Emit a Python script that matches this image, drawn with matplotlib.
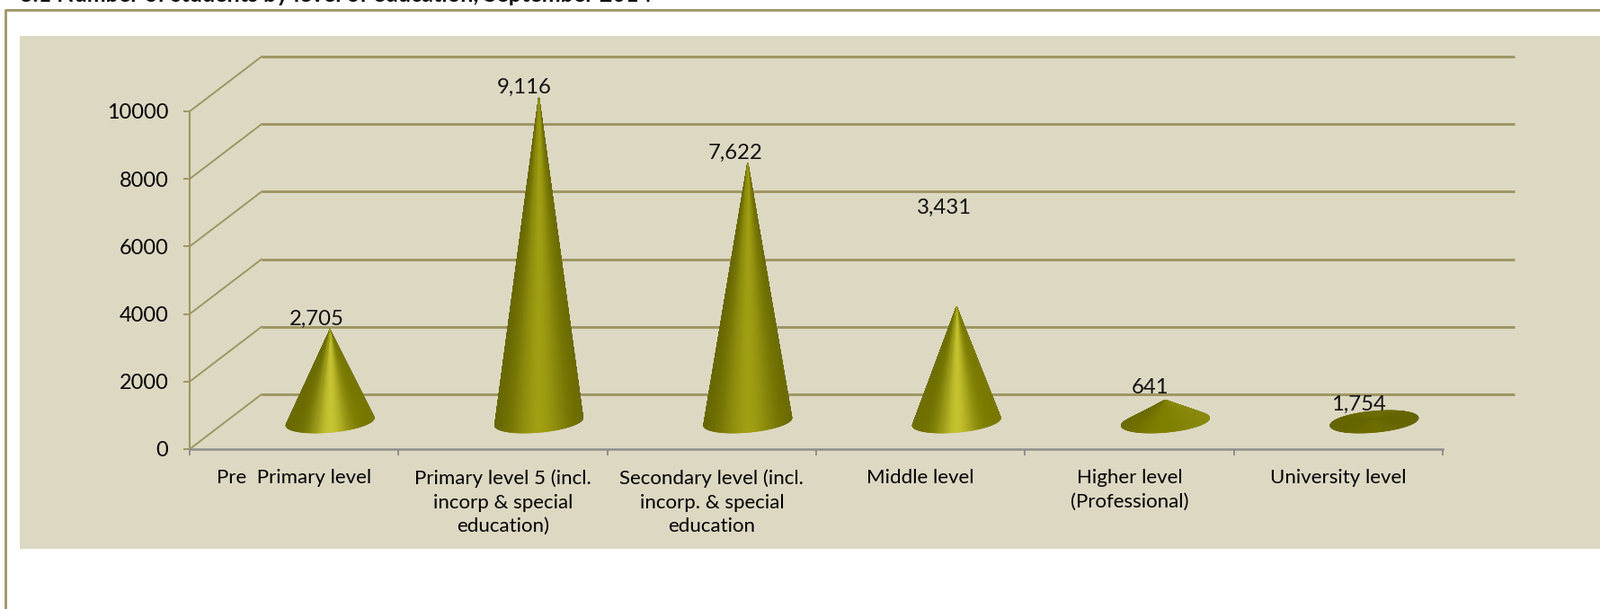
import numpy as np
import matplotlib

matplotlib.use("Agg")
import matplotlib.pyplot as plt
from matplotlib.collections import PolyCollection
from matplotlib.colors import to_rgb
from matplotlib.lines import Line2D
from matplotlib.patches import Rectangle

title = "3.1 Number of students by level of education, September 2014"
categories = [
    "Pre  Primary level",
    "Primary level 5 (incl.\nincorp & special\neducation)",
    "Secondary level (incl.\nincorp. & special\neducation",
    "Middle level",
    "Higher level\n(Professional)",
    "University level",
]
# printed labels, and the cone heights as they are drawn (they differ in the source)
students = [2705, 9116, 7622, 3431, 641, 1754]
cone_heights = [2720, 9600, 7660, 3400, 640, 60]
yticks = [0, 2000, 4000, 6000, 8000, 10000]

W, H = 1780, 678
LEFT, RIGHT = 211, 1605
BASE, TOP = 500, 124
GRID = "#9d9663"
GREY = "#8e8e8e"
PANEL = "#ddd8c2"

plt.rcParams["font.family"] = ["Lato", "DejaVu Sans"]
plt.rcParams["text.color"] = "#111111"
FS = 16.6


def hline(x0, x1, y0, y1, lw):
    return Line2D(
        [x0 / W, x1 / W], [1 - y0 / H, 1 - y1 / H], transform=fig.transFigure,
        color=GRID, lw=lw, solid_capstyle="butt",
    )


fig = plt.figure(figsize=(W / 100, H / 100), dpi=100, facecolor="white")

# panel and outer frame
fig.add_artist(Rectangle((22 / W, 1 - 611 / H), (W - 22) / W, 571 / H,
                         transform=fig.transFigure, fc=PANEL, ec="none", zorder=-2))
fig.add_artist(hline(6, W, 11, 11, 2.0))
fig.add_artist(hline(6, 6, 10, H, 2.0))
fig.text(22 / W, 1 - 1.5 / H, title, fontsize=18.1, fontweight="bold", va="baseline", ha="left")

ax = fig.add_axes([LEFT / W, 1 - BASE / H, (RIGHT - LEFT) / W, (BASE - TOP) / H])
ax.patch.set_visible(False)
ax.set_xlim(0, len(categories))
ax.set_ylim(0, 10000)

px_x = (RIGHT - LEFT) / len(categories)
px_y = (BASE - TOP) / 10000
depth_x = 80 / px_x
depth_y = 61 / px_y

# back wall lines and side wall diagonals
for v in yticks:
    ax.plot([depth_x, len(categories) + depth_x], [v + depth_y, v + depth_y],
            color=GRID, lw=2.1, clip_on=False, zorder=1, solid_capstyle="butt")
    ax.plot([0, depth_x], [v, v + depth_y], color=GRID, lw=1.4, clip_on=False, zorder=1)

# (left edge, middle, right edge) of each cone's shading, and width of the bright band
shades = [
    ("#6a6a00", "#c6c432", "#767600", 0.42),
    ("#626200", "#a09e12", "#666600", 0.62),
    ("#626200", "#a09e12", "#666600", 0.62),
    ("#6e6e00", "#c4c22e", "#787800", 0.42),
    ("#666600", "#808000", "#8a8a10", 0.8),
    ("#626200", "#6c6c00", "#626200", 0.8),
]

# rim of the base, a circle on the sloped floor
t = np.linspace(0, 2 * np.pi, 361)
rim_a = 46.2 / px_x
rim_b = 16.4 / px_x
rim_c = 12.5 / px_y

for i, height in enumerate(cone_heights):
    cx = i + 0.5 + depth_x / 2
    cy = depth_y / 2
    rx = cx + rim_a * np.cos(t) + rim_b * np.sin(t)
    ry = cy + rim_c * np.sin(t)
    half = np.hypot(rim_a, rim_b)
    left, mid, right, band = shades[i]
    left, mid, right = [np.array(to_rgb(c)) for c in (left, mid, right)]

    polys = []
    cols = []
    for k in range(len(t) - 1):
        polys.append([(cx, cy + height), (rx[k], ry[k]), (rx[k + 1], ry[k + 1])])
        u = ((rx[k] + rx[k + 1]) / 2 - cx) / half
        edge = left if u < 0 else right
        cols.append(edge + (mid - edge) * np.exp(-((u / band) ** 2)))
    # back of the cone first, then the front from the edges inwards
    order = np.argsort(-np.sin((t[:-1] + t[1:]) / 2))
    polys = [polys[k] for k in order]
    cols = [cols[k] for k in order]
    ax.add_collection(PolyCollection(polys, facecolors=cols, edgecolors=cols, linewidths=0.6,
                                     clip_on=False, zorder=3))

# data labels were moved by hand in the source, offsets in pixels from (centre, value)
label_offsets = [(25, 43), (24, 60), (26, 43), (26, 140), (23, 44), (23, -16)]
for i, v in enumerate(students):
    ax.annotate(f"{v:,}", (i + 0.5, v), xytext=label_offsets[i], textcoords="offset pixels",
                ha="center", va="center", fontsize=17.2, zorder=5, annotation_clip=False)

ax.set_yticks(yticks)
ax.set_yticklabels([str(v) for v in yticks], fontsize=FS + 0.3)
ax.tick_params(axis="y", length=5, width=1.4, color=GRID, pad=12)
ax.set_xticks(range(len(categories) + 1))
ax.set_xticklabels([])
ax.tick_params(axis="x", which="major", length=5, width=1.4, color=GREY)
ax.set_xticks(np.arange(len(categories)) + 0.5, minor=True)
ax.set_xticklabels(categories, minor=True, fontsize=16, linespacing=1.42)
ax.tick_params(axis="x", which="minor", length=0, pad=16)

for side in ["top", "right"]:
    ax.spines[side].set_visible(False)
ax.spines["left"].set_color(GRID)
ax.spines["left"].set_linewidth(1.5)
ax.spines["bottom"].set_color(GREY)
ax.spines["bottom"].set_linewidth(1.8)

fig.savefig("out.png", dpi=100)
